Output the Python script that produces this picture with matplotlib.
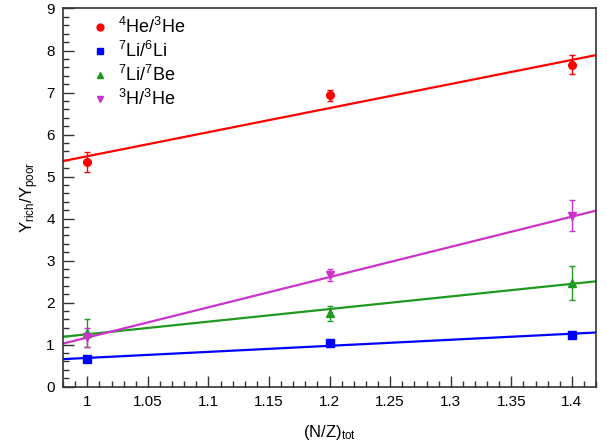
import numpy as np
import matplotlib
matplotlib.use('Agg')
import matplotlib.pyplot as plt
from matplotlib.ticker import MultipleLocator

plt.rcParams['font.family'] = 'Liberation Sans'
plt.rcParams['mathtext.fontset'] = 'custom'
plt.rcParams['mathtext.rm'] = 'Liberation Sans'
plt.rcParams['mathtext.it'] = 'Liberation Sans'

# isospin ratios vs (N/Z) of the system
nz = [1.0, 1.2, 1.4]

he4_he3 = [5.35, 6.93, 7.66]
he4_he3_err = [0.23, 0.13, 0.23]
li7_li6 = [0.66, 1.03, 1.24]
li7_li6_err = [0.04, 0.04, 0.04]
li7_be7 = [1.28, 1.75, 2.47]
li7_be7_err = [0.33, 0.18, 0.40]
h3_he3 = [1.17, 2.66, 4.07]
h3_he3_err = [0.22, 0.14, 0.37]

# linear fits: intercept, slope
fit_he = [-0.246, 5.73]
fit_li = [-0.756, 1.44]
fit_be = [-1.753, 3.0]
fit_h3 = [-6.02, 7.19]

labels = [r'$^{4}$He/$^{3}$He', r'$^{7}$Li/$^{6}$Li', r'$^{7}$Li/$^{7}$Be', r'$^{3}$H/$^{3}$He']
colors = ['#ff0000', '#0000ff', '#1f991f', '#cc33cc']
markers = ['o', 's', '^', 'v']

fig = plt.figure(figsize=(6.07, 4.47), dpi=100)
ax = fig.add_axes([0.104, 0.135, 0.878, 0.846])

xfit = np.array([0.98, 1.42])
series = [(he4_he3, he4_he3_err, fit_he), (li7_li6, li7_li6_err, fit_li),
          (li7_be7, li7_be7_err, fit_be), (h3_he3, h3_he3_err, fit_h3)]
handles = []
for (y, yerr, fit), c, m, lab in zip(series, colors, markers, labels):
    ax.plot(xfit, fit[0] + fit[1] * xfit, color=c, lw=1.6, zorder=2)
    ax.errorbar(nz, y, yerr=yerr, fmt='none', ecolor=c, elinewidth=1, capsize=2, capthick=1, zorder=3)
    h, = ax.plot(nz, y, ls='none', marker=m, color=c, ms=5.5, mec=c, zorder=4, label=lab)
    handles.append(h)

ax.set_xlim(0.98, 1.42)
ax.set_ylim(0, 9)
ax.xaxis.set_major_locator(MultipleLocator(0.05))
ax.xaxis.set_minor_locator(MultipleLocator(0.01))
ax.yaxis.set_major_locator(MultipleLocator(1))
ax.yaxis.set_minor_locator(MultipleLocator(0.2))
ax.set_xticks([1.0, 1.05, 1.1, 1.15, 1.2, 1.25, 1.3, 1.35, 1.4])
ax.set_xticklabels(['1', '1.05', '1.1', '1.15', '1.2', '1.25', '1.3', '1.35', '1.4'])
ax.tick_params(which='both', direction='in', top=False, right=False, labelsize=11, width=1, color='#333333')
ax.tick_params(which='major', length=8, pad=6)
ax.tick_params(which='minor', length=4)
for s in ax.spines.values():
    s.set_color('#333333')
    s.set_linewidth(1.2)

ax.set_xlabel(r'(N/Z)$_{\rm tot}$', fontsize=12, labelpad=10)
ax.set_ylabel(r'Y$_{\rm rich}$/Y$_{\rm poor}$', fontsize=12, labelpad=4)

leg = ax.legend(handles=handles, loc='upper left', frameon=False, fontsize=13,
                handletextpad=0.4, labelspacing=0.22, markerscale=0.9, handlelength=1.2,
                bbox_to_anchor=(0.035, 0.997), borderaxespad=0.0)

fig.savefig('out.png', dpi=100)
